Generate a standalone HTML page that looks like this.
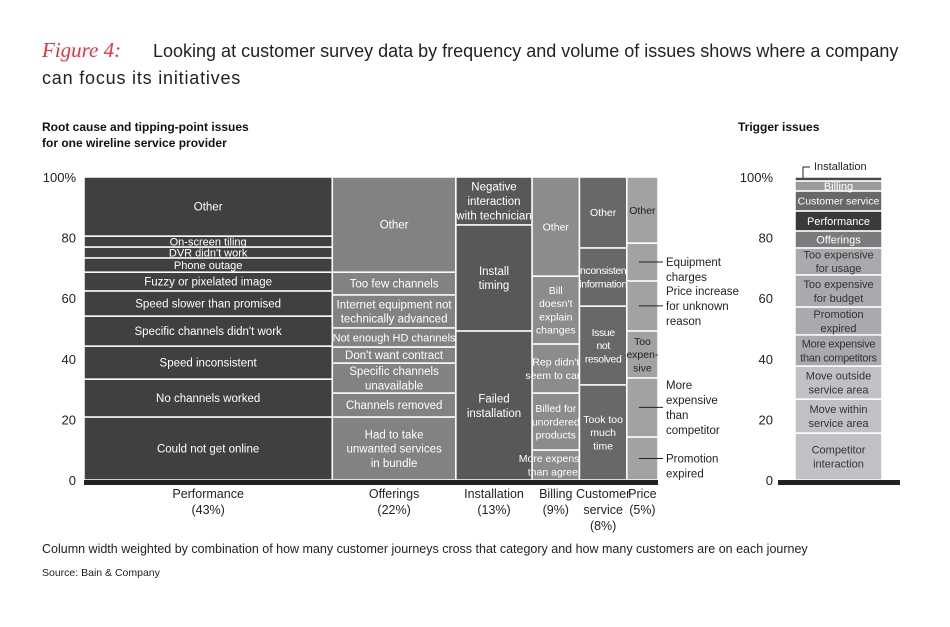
<!DOCTYPE html>
<html><head><meta charset="utf-8"><style>
body{margin:0;background:#fff;}
svg{display:block;font-family:"Liberation Sans",sans-serif;}
</style></head><body>
<svg id="chart" width="950" height="627" viewBox="0 0 950 627">
<text x="42" y="57" font-family="Liberation Serif,serif" font-style="italic" font-size="21" fill="#e8323c">Figure 4:</text>
<text x="153" y="57" font-size="18" fill="#222">Looking at customer survey data by frequency and volume of issues shows where a company</text>
<text x="42" y="84" font-size="18" fill="#222" letter-spacing="0.8">can focus its initiatives</text>
<text x="42" y="131" font-size="12" font-weight="bold" fill="#111">Root cause and tipping-point issues</text>
<text x="42" y="147" font-size="12" font-weight="bold" fill="#111">for one wireline service provider</text>
<text x="738" y="131" font-size="12" font-weight="bold" fill="#111">Trigger issues</text>
<text x="42" y="553" font-size="12.5" fill="#222">Column width weighted by combination of how many customer journeys cross that category and how many customers are on each journey</text>
<text x="42" y="576" font-size="10.5" fill="#222">Source: Bain &amp; Company</text>
<g id="main"></g>
</svg>
<script>
const categories=["Performance","Offerings","Installation","Billing","Customer service","Price"];
const catLabels=[["Performance","(43%)"],["Offerings","(22%)"],["Installation","(13%)"],["Billing","(9%)"],["Customer","service","(8%)"],["Price","(5%)"]];
const colWeights=[43,21.4,13.2,8.2,8.2,5.4];
const colColors=["#404042","#828284","#58585b","#8c8c8e","#68686a","#a2a2a5"];
const perfVals=[20.8,12.5,10.9,9.9,8.3,6.2,4.7,3.6,3.6,19.5];
const perfLabels=["Could not get online","No channels worked","Speed inconsistent","Specific channels didn't work","Speed slower than promised","Fuzzy or pixelated image","Phone outage","DVR didn't work","On-screen tiling","Other"];
const offVals=[20.8,7.9,9.9,5.3,6.3,10.9,7.5,31.4];
const offLabels=["Had to take|unwanted services|in bundle","Channels removed","Specific channels|unavailable","Don't want contract","Not enough HD channels","Internet equipment not|technically advanced","Too few channels","Other"];
const instVals=[49.2,35,15.8];
const instLabels=["Failed|installation","Install|timing","Negative|interaction|with technician"];
const billVals=[9.9,18.8,16.2,22.4,32.7];
const billLabels=["More expensive|than agreed","Billed for|unordered|products","Rep didn't|seem to care","Bill|doesn't|explain|changes","Other"];
const csVals=[31.4,26,19.2,23.4];
const csLabels=["Took too|much|time","Issue|not|resolved","Inconsistent|information","Other"];
const priceVals=[14.2,19.5,15.5,16.5,12.5,21.8];
const priceLabels=["","","Too|expen-|sive","","","Other"];
const priceCallouts=["Promotion|expired","More|expensive|than|competitor","","Price increase|for unknown|reason","Equipment|charges",""];
const trigVals=[15.5,11.2,10.9,10.3,9.2,10.6,8.9,5.6,6.6,6.6,3.3,1.3];
const trigLabels=["Competitor|interaction","Move within|service area","Move outside|service area","More expensive|than competitors","Promotion|expired","Too expensive|for budget","Too expensive|for usage","Offerings","Performance","Customer service","Billing",""];
const trigColors=["#c1c1c5","#c1c1c5","#c1c1c5","#aaaaae","#aaaaae","#aaaaae","#aaaaae","#7b7b7d","#3a3a3c","#68686a","#9a9a9c","#4a4a4c"];
const yTicks=[0,20,40,60,80,100];
const yTickLabels=["0","20","40","60","80","100%"];

const NS="http://www.w3.org/2000/svg";
const g=document.getElementById("main");
const Y0=480,Y1=177;
const y=v=>Y0-(Y0-Y1)*v/100;
const X0=84,X1=658;
const totalW=colWeights.reduce((a,b)=>a+b,0);
const x=w=>X0+(X1-X0)*w/totalW;
function el(t,a){const e=document.createElementNS(NS,t);for(const k in a)e.setAttribute(k,a[k]);g.appendChild(e);return e;}
function label(cx,cy,txt,fill,fs,ls){
  const lines=txt.split("|");const lh=fs*1.25;
  lines.forEach((l,i)=>{const t=el("text",{x:cx,y:cy+(i-(lines.length-1)/2)*lh+fs*0.36,"text-anchor":"middle","font-size":fs,fill:fill,"letter-spacing":ls||0});t.textContent=l;
  
  });
}
yTicks.forEach((v,i)=>{
  const t=el("text",{x:76,y:y(v)+5,"text-anchor":"end","font-size":13,fill:"#222"});t.textContent=yTickLabels[i];
  
  
  const t2=el("text",{x:773,y:y(v)+5,"text-anchor":"end","font-size":13,fill:"#222"});t2.textContent=yTickLabels[i];
  
  
});
const colVals=[perfVals,offVals,instVals,billVals,csVals,priceVals];
const colLabs=[perfLabels,offLabels,instLabels,billLabels,csLabels,priceLabels];
let cum=0;
colVals.forEach((vals,ci)=>{
  const xa=x(cum),xb=x(cum+colWeights[ci]);cum+=colWeights[ci];
  let acc=0;
  vals.forEach((v,si)=>{
    const ya=y(acc+v),yb=y(acc);
    const r=el("rect",{x:xa,y:ya,width:xb-xa,height:yb-ya,fill:colColors[ci],stroke:"#fff","stroke-width":1.5});
    
    
    const lab=colLabs[ci][si];
    if(lab){
      let fs=(ci===0&&v<5)?11:11.5;
      if(ci===1&&si===4)fs=11;
      if(ci>=3)fs=10.5;
      const ls=(ci===4&&si===2)||(ci===4&&si===1)?-0.4:0;
      label((xa+xb)/2,(ya+yb)/2,lab,ci===5?"#222":"#fff",fs,ls);
    }
    if(ci===5&&priceCallouts[si]){
      const cy=(ya+yb)/2;
      el("line",{x1:xa+12,x2:X1+5,y1:cy,y2:cy,stroke:"#222","stroke-width":1});
      const lines=priceCallouts[si].split("|");
      const top=lines.length>2?cy-(lines.length-1)/2*15:cy;
      lines.forEach((l,i)=>{const t=el("text",{x:X1+8,y:top+i*15+4,"font-size":11.5,fill:"#222"});t.textContent=l;
        
        });
    }
    acc+=v;
  });
  const cx=(xa+xb)/2;
  catLabels[ci].forEach((l,i)=>{const t=el("text",{x:cx,y:498+i*16,"text-anchor":"middle","font-size":12.5,fill:"#222"});t.textContent=l;
    
    });
});
const base=el("rect",{x:X0,y:480,width:X1-X0,height:5,fill:"#222"});


const TX0=795,TX1=882;let acc=0;
trigVals.forEach((v,i)=>{
  const ya=y(acc+v),yb=y(acc);
  const r=el("rect",{x:TX0,y:ya,width:TX1-TX0,height:yb-ya,fill:trigColors[i],stroke:"#fff","stroke-width":1.5});
  
  
  if(trigLabels[i]){label((TX0+TX1)/2,(ya+yb)/2,trigLabels[i],i>=7?"#fff":"#333",i===9?10.5:11,i===3?-0.3:0);}
  acc+=v;
});
const tb=el("rect",{x:778,y:480,width:122,height:5,fill:"#222"});


el("polyline",{points:"803,178 803,167 810,167",fill:"none",stroke:"#222","stroke-width":1});
const it=el("text",{x:814,y:170,"font-size":11,fill:"#222"});it.textContent="Installation";


</script>
</body></html>
